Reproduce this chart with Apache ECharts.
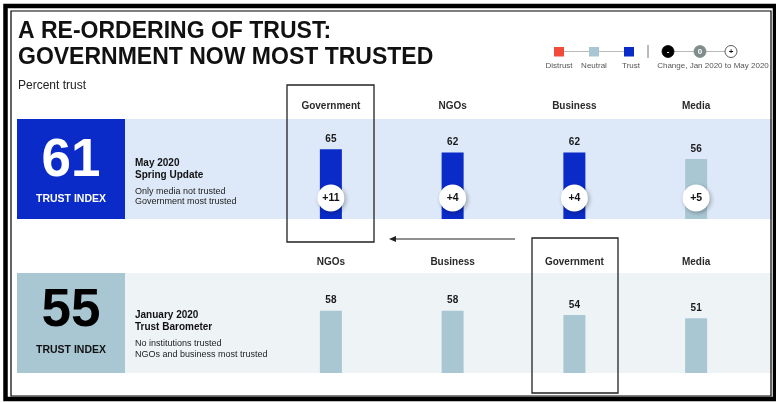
<!DOCTYPE html>
<html>
<head>
<meta charset="utf-8">
<script src="https://cdn.jsdelivr.net/npm/echarts@6/dist/echarts.min.js"></script>
<style>
html,body{margin:0;padding:0;background:#fff;}
#c{width:776px;height:402px;}
</style>
</head>
<body>
<div id="c"></div>
<script>
// ---- data ----
const categoriesMay = ['Government', 'NGOs', 'Business', 'Media'];
const trustMay = [65, 62, 62, 56];
const changeMay = [11, 4, 4, 5];
const categoriesJan = ['NGOs', 'Business', 'Government', 'Media'];
const trustJan = [58, 58, 54, 51];
const trustIndex = [61, 55];
const legendLevels = ['Distrust', 'Neutral', 'Trust'];
const changeMarks = ['-', '0', '+'];

// ---- styles ----
const FONT = '"Liberation Sans", Arial, sans-serif';
const C_TRUST = '#0a2bc8';
const C_NEUTRAL = '#a9c7d3';
const C_DISTRUST = '#f24b3b';
function levelColor(v) { return v >= 60 ? C_TRUST : (v >= 50 ? C_NEUTRAL : C_DISTRUST); }

const chart = echarts.init(document.getElementById('c'), null, {renderer: 'canvas'});

function catAxis(idx, cats, margin) {
  return {
    type: 'category', gridIndex: idx, data: cats, position: 'top',
    axisLine: {show: false}, axisTick: {show: false}, splitLine: {show: false},
    axisLabel: {margin: margin, fontFamily: FONT, fontWeight: 'bold', fontSize: 10, color: '#2a2a2a', lineHeight: 12}
  };
}
function valAxis(idx) {
  return {type: 'value', gridIndex: idx, min: 0, max: 100, show: false};
}
function barSeries(idx, vals) {
  return {
    type: 'bar', xAxisIndex: idx, yAxisIndex: idx, barWidth: 22, z: 3,
    data: vals.map(v => ({value: v, itemStyle: {color: levelColor(v)}})),
    label: {show: true, position: 'top', distance: 5, fontFamily: FONT, fontWeight: 'bold', fontSize: 10, color: '#1a1a1a'}
  };
}

const g = [];
// outer frame
g.push({type: 'rect', shape: {x: 5.5, y: 6, width: 769.5, height: 393}, style: {fill: null, stroke: '#000', lineWidth: 4.5}, z: 1});
g.push({type: 'rect', shape: {x: 11, y: 11, width: 760, height: 385}, style: {fill: null, stroke: '#000', lineWidth: 1.2}, z: 1});
// bands
g.push({type: 'rect', shape: {x: 17, y: 119, width: 755, height: 100}, style: {fill: '#dde9f8'}, z: -10});
g.push({type: 'rect', shape: {x: 17, y: 273, width: 755, height: 100}, style: {fill: '#eef3f6'}, z: -10});
g.push({type: 'rect', shape: {x: 17, y: 119, width: 108, height: 100}, style: {fill: C_TRUST}, z: -9});
g.push({type: 'rect', shape: {x: 17, y: 273, width: 108, height: 100}, style: {fill: C_NEUTRAL}, z: -9});
// index numbers
g.push({type: 'text', style: {x: 71, y: 161, text: String(trustIndex[0]), fill: '#fff', font: 'bold 53px ' + FONT, textAlign: 'center', textVerticalAlign: 'middle'}});
g.push({type: 'text', style: {x: 71, y: 199, text: 'TRUST INDEX', fill: '#fff', font: 'bold 10.5px ' + FONT, textAlign: 'center', textVerticalAlign: 'middle'}});
g.push({type: 'text', style: {x: 71, y: 311, text: String(trustIndex[1]), fill: '#000', font: 'bold 53px ' + FONT, textAlign: 'center', textVerticalAlign: 'middle'}});
g.push({type: 'text', style: {x: 71, y: 350, text: 'TRUST INDEX', fill: '#111', font: 'bold 10.5px ' + FONT, textAlign: 'center', textVerticalAlign: 'middle'}});
// panel texts
function txt(x, y, t, font, fill, align) {
  g.push({type: 'text', style: {x: x, y: y, text: t, fill: fill || '#111', font: font, textAlign: align || 'left', textVerticalAlign: 'middle'}});
}
txt(135, 163, 'May 2020', 'bold 10px ' + FONT);
txt(135, 175, 'Spring Update', 'bold 10px ' + FONT);
txt(135, 192, 'Only media not trusted', '9px ' + FONT, '#222');
txt(135, 202, 'Government most trusted', '9px ' + FONT, '#222');
txt(135, 315, 'January 2020', 'bold 10px ' + FONT);
txt(135, 327, 'Trust Barometer', 'bold 10px ' + FONT);
txt(135, 344, 'No institutions trusted', '9px ' + FONT, '#222');
txt(135, 355, 'NGOs and business most trusted', '9px ' + FONT, '#222');
// title
txt(18, 32, 'A RE-ORDERING OF TRUST:', 'bold 23px ' + FONT, '#111');
txt(18, 58, 'GOVERNMENT NOW MOST TRUSTED', 'bold 23px ' + FONT, '#111');
txt(18, 86, 'Percent trust', '12px ' + FONT, '#222');
// legend
g.push({type: 'line', shape: {x1: 559, y1: 51.5, x2: 629, y2: 51.5}, style: {stroke: '#b8b8b8', lineWidth: 1}});
[C_DISTRUST, C_NEUTRAL, C_TRUST].forEach((c, i) => {
  const cx = [559, 594, 629][i];
  g.push({type: 'rect', shape: {x: cx - 5, y: 47, width: 10, height: 9.5}, style: {fill: c}});
  txt(cx + (i === 2 ? 2 : 0), 66, legendLevels[i], '8px ' + FONT, '#555', 'center');
});
g.push({type: 'line', shape: {x1: 648, y1: 45, x2: 648, y2: 58}, style: {stroke: '#777', lineWidth: 1}});
g.push({type: 'line', shape: {x1: 668, y1: 51.5, x2: 731, y2: 51.5}, style: {stroke: '#b8b8b8', lineWidth: 1}});
[['#000', '#000', '#fff'], ['#808c8c', '#808c8c', '#fff'], ['#fff', '#333', '#111']].forEach((s, i) => {
  const cx = [668, 700, 731][i];
  g.push({type: 'circle', shape: {cx: cx, cy: 51.5, r: 6}, style: {fill: s[0], stroke: s[1], lineWidth: 0.8}});
  txt(cx, 51.5, changeMarks[i], 'bold 8px ' + FONT, s[2], 'center');
});
txt(713, 66, 'Change, Jan 2020 to May 2020', '8px ' + FONT, '#555', 'center');
// highlight boxes and arrow
g.push({type: 'rect', shape: {x: 287, y: 85, width: 87, height: 157}, style: {fill: null, stroke: '#222', lineWidth: 1.3}, z: 10});
g.push({type: 'rect', shape: {x: 532, y: 238, width: 86, height: 155}, style: {fill: null, stroke: '#222', lineWidth: 1.3}, z: 10});
g.push({type: 'line', shape: {x1: 515, y1: 239, x2: 394, y2: 239}, style: {stroke: '#222', lineWidth: 1.2}, z: 10});
g.push({type: 'polygon', shape: {points: [[389, 239], [396, 236], [396, 242]]}, style: {fill: '#222'}, z: 10});

const option = {
  animation: false,
  backgroundColor: '#fff',
  grid: [
    {left: 270, width: 487, top: 111.8, height: 107.2},
    {left: 270, width: 487, top: 265.6, height: 107.4}
  ],
  xAxis: [catAxis(0, categoriesMay, 0), catAxis(1, categoriesJan, -2.5)],
  yAxis: [valAxis(0), valAxis(1)],
  series: [
    barSeries(0, trustMay),
    barSeries(1, trustJan),
    {
      type: 'scatter', xAxisIndex: 0, yAxisIndex: 0, clip: false, z: 5,
      symbol: 'circle', symbolSize: 27, symbolOffset: [0, -21],
      itemStyle: {color: '#fff', opacity: 1, shadowBlur: 4, shadowColor: 'rgba(0,0,0,0.3)', shadowOffsetX: 1.5, shadowOffsetY: 1.5},
      emphasis: {disabled: true},
      data: categoriesMay.map((c, i) => [c, 0, changeMay[i]]),
      label: {show: true, position: 'inside', fontFamily: FONT, fontWeight: 'bold', fontSize: 10.5, color: '#111',
        formatter: p => (p.value[2] > 0 ? '+' : '') + p.value[2]}
    }
  ],
  graphic: g
};
chart.setOption(option);
</script>
</body>
</html>
